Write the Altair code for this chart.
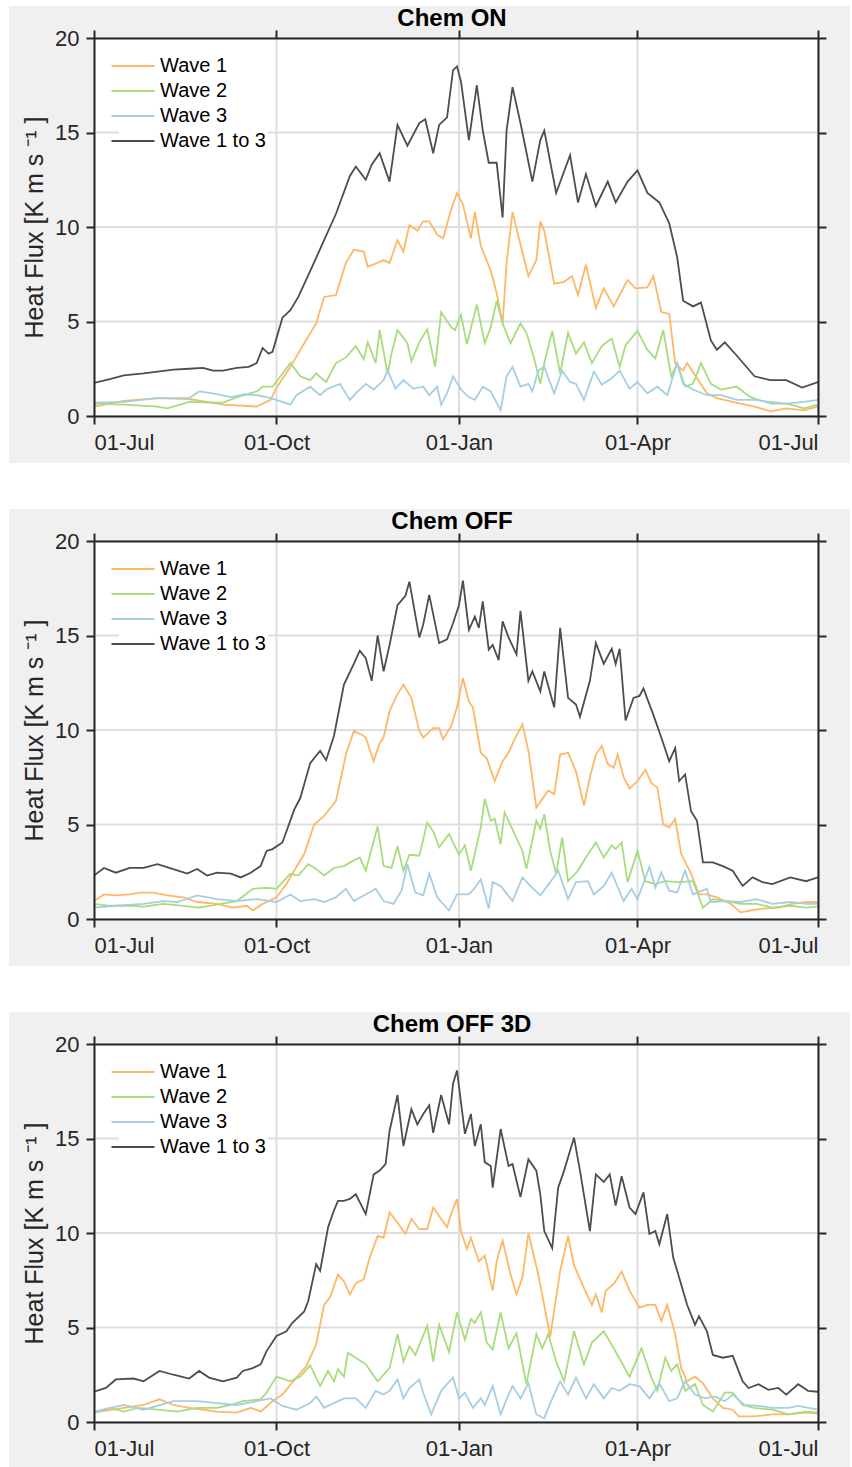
import altair as alt
import pandas as pd

FONT = "Liberation Sans"
SERIES = ["Wave 1", "Wave 2", "Wave 3", "Wave 1 to 3"]
COLORS = ["#ffb766", "#a8dc7c", "#a6cee3", "#4d4d4d"]
PANEL_TITLES = ["Chem ON", "Chem OFF", "Chem OFF 3D"]
TICK_DAYS = [0, 92, 184, 274, 365]
TICK_LABELS = ["01-Jul", "01-Oct", "01-Jan", "01-Apr", "01-Jul"]
Y_TICKS = [0, 5, 10, 15, 20]
Y_TITLE = "Heat Flux [K m s \u207b\u00b9 ]"

# ---- Chem ON : (day since 01-Jul, heat flux) ----
ON_W13 = [(0,1.75),(8,1.95),(15,2.15),(25,2.25),(32,2.35),(40,2.45),(48,2.5),(55,2.55),(60,2.4),(65,2.4),(72,2.55),(78,2.6),(82,2.8),(85,3.6),(88,3.3),(90,3.4),(95,5.2),(99,5.6),(103,6.3),(110,7.9),(116,9.3),(122,10.7),(129,12.7),(132,13.2),(137,12.5),(140,13.3),(144,13.9),(149,12.4),(153,15.4),(158,14.3),(164,15.5),(167,15.7),(171,13.9),(174,15.4),(178,15.8),(181,18.3),(183,18.5),(185,17.7),(189,14.6),(193,17.5),(196,15.1),(199,13.4),(203,13.4),(206,10.5),(208,15.1),(211,17.4),(215,15.5),(221,12.4),(225,14.6),(227,15.1),(233,11.8),(240,13.8),(244,11.3),(248,12.8),(253,11.1),(259,12.4),(263,11.3),(269,12.4),(274,13.0),(279,11.8),(285,11.3),(290,10.2),(294,8.4),(297,6.1),(302,5.8),(306,6.0),(311,4.0),(314,3.5),(318,3.9),(324,3.2),(333,2.1),(341,1.9),(349,1.9),(357,1.5),(365,1.8)]
ON_W1 = [(0,0.5),(15,0.8),(32,0.95),(48,0.9),(65,0.6),(82,0.5),(89,0.85),(92,1.5),(99,2.6),(106,3.85),(112,4.9),(116,6.3),(122,6.4),(127,8.1),(131,8.8),(136,8.7),(138,7.9),(143,8.1),(146,8.25),(149,8.1),(153,9.3),(156,8.7),(159,10.1),(163,9.8),(166,10.3),(169,10.3),(173,9.6),(176,9.4),(180,10.9),(183,11.8),(186,11.2),(190,9.4),(192,10.8),(195,9.0),(200,7.7),(203,6.5),(206,4.9),(208,8.1),(211,10.8),(214,9.5),(219,7.4),(223,8.25),(225,10.3),(227,9.8),(232,7.0),(237,7.1),(241,7.4),(244,6.4),(248,8.0),(253,5.7),(257,6.75),(262,5.8),(267,6.8),(269,7.2),(273,6.75),(279,6.8),(282,7.4),(286,5.5),(290,5.4),(293,2.8),(297,2.4),(299,2.8),(304,2.0),(309,1.2),(314,0.95),(322,0.75),(333,0.5),(341,0.25),(349,0.4),(358,0.3),(365,0.5)]
ON_W2 = [(0,0.65),(15,0.6),(32,0.5),(37,0.4),(48,0.75),(65,0.7),(72,1.0),(82,1.3),(85,1.55),(90,1.55),(94,2.1),(99,2.8),(104,2.1),(109,1.9),(112,2.25),(117,1.8),(122,2.8),(127,3.1),(132,3.7),(136,3.0),(138,3.9),(142,2.8),(144,4.55),(148,2.25),(150,3.3),(153,4.55),(158,3.85),(160,2.9),(164,3.9),(168,4.6),(172,2.6),(175,5.5),(180,4.7),(182,4.55),(185,5.35),(188,3.8),(193,5.9),(197,3.85),(200,4.7),(203,6.1),(206,4.9),(210,3.85),(215,4.9),(218,4.4),(222,3.0),(225,1.7),(227,2.8),(231,4.5),(235,2.25),(239,4.4),(243,3.3),(247,3.9),(251,2.8),(256,3.7),(261,4.1),(265,2.6),(268,3.75),(274,4.5),(279,3.5),(283,3.05),(287,4.55),(291,2.1),(294,2.8),(298,1.55),(302,1.7),(306,2.8),(311,1.7),(316,1.4),(324,1.55),(331,1.0),(341,0.65),(349,0.65),(358,0.4),(365,0.6)]
ON_W3 = [(0,0.7),(15,0.75),(32,0.95),(48,0.95),(53,1.3),(60,1.2),(69,1.0),(76,1.15),(82,1.1),(87,1.0),(92,0.85),(99,0.6),(102,1.1),(109,1.55),(114,1.1),(117,1.4),(124,1.7),(129,0.85),(132,1.2),(137,1.7),(141,1.4),(146,1.9),(148,2.4),(152,1.45),(156,1.9),(161,1.45),(166,1.55),(169,1.1),(173,1.55),(175,0.6),(178,1.2),(181,2.1),(185,1.4),(189,1.0),(192,0.85),(196,1.55),(200,1.3),(205,0.3),(208,2.1),(211,2.6),(215,1.55),(219,1.7),(221,1.3),(224,2.4),(227,2.6),(232,1.2),(236,2.4),(240,1.8),(243,1.7),(247,0.85),(252,2.35),(256,1.65),(261,2.0),(265,2.4),(270,1.45),(274,1.8),(279,1.2),(284,1.55),(289,1.1),(294,2.8),(297,1.7),(302,1.4),(309,1.1),(316,1.1),(324,0.85),(333,0.85),(341,0.75),(349,0.65),(358,0.75),(365,0.85)]

# ---- Chem OFF ----
OFF_W13 = [(0,2.3),(5,2.7),(11,2.45),(18,2.7),(25,2.7),(32,2.9),(38,2.7),(47,2.4),(52,2.65),(57,2.3),(62,2.45),(69,2.4),(74,2.2),(79,2.45),(84,2.8),(87,3.6),(90,3.7),(95,4.05),(101,5.8),(104,6.4),(109,8.25),(114,8.9),(117,8.4),(121,9.7),(126,12.4),(131,13.5),(134,14.2),(137,13.8),(140,12.6),(143,15.0),(146,13.1),(149,14.5),(153,16.6),(157,17.1),(159,17.85),(164,14.9),(166,15.6),(169,17.15),(174,14.6),(178,14.8),(181,15.65),(184,16.6),(186,17.9),(189,15.3),(192,16.0),(194,15.4),(196,16.8),(199,14.25),(201,14.5),(204,13.7),(206,15.75),(209,14.9),(213,14.0),(215,16.3),(219,12.6),(221,13.1),(225,12.05),(227,13.1),(232,11.2),(235,15.4),(239,11.7),(243,11.35),(245,10.7),(250,12.6),(253,14.6),(257,13.5),(261,14.3),(263,13.5),(265,14.3),(268,10.5),(272,11.7),(275,11.8),(277,12.2),(282,10.8),(286,9.6),(290,8.35),(293,9.05),(295,7.3),(298,7.65),(301,5.7),(304,5.2),(307,3.0),(312,3.0),(317,2.8),(322,2.55),(327,1.75),(332,2.2),(337,1.95),(342,1.85),(351,2.2),(359,2.0),(365,2.2)]
OFF_W1 = [(0,0.95),(5,1.3),(11,1.25),(18,1.3),(23,1.4),(30,1.4),(37,1.25),(45,1.15),(52,0.9),(62,0.8),(70,0.6),(77,0.7),(80,0.45),(85,0.8),(92,1.15),(97,1.85),(102,2.75),(106,3.45),(111,5.0),(116,5.45),(122,6.25),(127,8.7),(131,9.95),(135,9.75),(137,9.6),(141,8.35),(144,9.3),(146,9.6),(149,11.0),(153,11.9),(156,12.4),(160,11.7),(164,9.95),(166,9.6),(171,10.1),(174,10.1),(176,9.5),(180,10.2),(183,11.2),(186,12.75),(189,11.5),(191,11.2),(195,8.8),(198,8.5),(202,7.3),(206,8.35),(209,8.8),(212,9.5),(216,10.3),(219,8.9),(223,5.9),(229,6.8),(232,6.6),(235,8.7),(239,8.8),(243,7.8),(247,6.0),(250,7.5),(253,8.7),(256,9.15),(259,8.2),(262,8.0),(264,8.7),(267,7.5),(270,6.9),(274,7.3),(278,7.9),(281,7.2),(284,6.95),(287,5.0),(290,4.85),(293,5.3),(296,3.45),(301,2.4),(305,1.3),(309,1.3),(314,1.15),(321,0.8),(326,0.35),(331,0.45),(337,0.55),(345,0.6),(352,0.8),(359,0.9),(365,0.9)]
OFF_W2 = [(0,0.8),(8,0.7),(18,0.7),(25,0.65),(35,0.8),(45,0.7),(53,0.6),(64,0.8),(72,0.95),(80,1.6),(87,1.65),(92,1.6),(99,2.4),(103,2.3),(108,2.9),(112,2.65),(116,2.3),(121,2.7),(126,2.8),(131,3.1),(134,3.25),(137,2.55),(143,4.9),(146,2.8),(150,2.7),(153,3.85),(156,2.55),(159,3.4),(164,3.35),(168,5.1),(171,4.65),(174,3.8),(179,4.5),(184,3.4),(187,3.9),(190,2.55),(195,4.85),(197,6.35),(200,5.2),(202,5.3),(205,3.95),(207,5.65),(212,4.5),(216,3.6),(218,2.65),(223,5.2),(225,4.75),(227,5.55),(230,3.6),(233,2.4),(236,4.3),(239,2.0),(244,2.55),(248,3.25),(253,4.05),(257,3.25),(261,3.9),(263,3.7),(266,4.05),(269,1.95),(274,3.6),(278,2.0),(283,1.85),(288,2.0),(295,1.95),(302,2.0),(307,0.6),(312,1.05),(319,0.95),(326,0.8),(334,0.8),(342,0.6),(351,0.7),(359,0.6),(365,0.65)]
OFF_W3 = [(0,0.6),(11,0.7),(25,0.8),(35,0.95),(42,0.9),(52,1.25),(62,1.05),(72,0.95),(82,1.05),(92,0.9),(99,1.3),(104,0.95),(111,1.05),(116,0.9),(122,1.15),(127,1.6),(131,0.95),(137,1.3),(142,1.6),(146,0.95),(151,0.8),(155,1.5),(158,2.9),(162,1.4),(166,1.25),(169,2.4),(173,1.15),(179,0.45),(183,1.3),(189,1.3),(192,1.65),(195,2.1),(199,0.55),(201,1.95),(205,1.75),(211,0.95),(216,2.2),(220,1.75),(225,1.25),(230,1.95),(234,2.55),(239,1.05),(243,1.95),(249,2.0),(252,1.3),(257,1.75),(261,2.45),(267,0.95),(271,1.6),(274,1.05),(280,2.75),(283,1.65),(286,2.45),(290,1.5),(294,1.4),(298,2.55),(302,1.3),(309,1.6),(311,0.9),(319,0.95),(326,0.9),(334,1.05),(342,0.8),(351,0.9),(359,0.8),(365,0.8)]

# ---- Chem OFF 3D ----
D3_W13 = [(0,1.6),(6,1.8),(11,2.25),(20,2.3),(25,2.15),(33,2.7),(40,2.5),(48,2.3),(53,2.7),(58,2.35),(65,2.15),(72,2.35),(75,2.7),(80,2.85),(84,3.05),(87,3.75),(92,4.55),(97,4.8),(100,5.25),(106,5.85),(108,6.4),(112,8.35),(114,8.0),(118,10.3),(121,11.2),(123,11.7),(126,11.7),(129,11.8),(132,12.05),(137,11.0),(141,13.1),(144,13.3),(147,13.65),(149,15.4),(153,17.3),(156,14.6),(160,16.55),(163,15.75),(166,16.3),(169,16.75),(171,15.3),(175,17.3),(179,15.75),(181,17.9),(183,18.6),(187,15.25),(190,16.3),(192,14.6),(195,15.75),(197,13.75),(200,13.55),(201,12.4),(204,14.7),(205,15.5),(209,13.55),(211,13.65),(215,11.9),(219,13.9),(223,13.3),(225,12.05),(227,10.1),(231,9.2),(234,12.4),(237,13.3),(240,14.35),(242,15.05),(245,13.3),(250,10.1),(253,13.1),(257,12.7),(260,13.1),(263,11.45),(266,13.0),(270,11.35),(273,11.0),(277,12.15),(280,9.95),(283,10.1),(285,9.4),(289,11.0),(292,8.7),(295,7.65),(299,6.2),(303,5.15),(305,5.6),(309,4.8),(312,3.55),(317,3.4),(322,3.5),(327,2.15),(330,1.8),(335,2.0),(340,1.7),(345,1.8),(349,1.45),(355,2.0),(360,1.65),(365,1.6)]
D3_W1 = [(0,0.5),(15,0.75),(25,0.9),(33,1.2),(40,0.9),(48,0.75),(62,0.55),(72,0.5),(79,0.75),(84,0.55),(90,1.1),(95,1.45),(102,2.35),(107,2.95),(112,4.1),(116,6.2),(119,6.6),(123,7.8),(126,7.45),(129,6.75),(132,7.35),(136,7.55),(139,8.7),(143,9.85),(146,9.75),(149,11.1),(153,10.55),(157,9.95),(160,10.75),(164,10.2),(168,10.2),(171,11.35),(174,10.9),(178,10.3),(180,11.0),(183,11.8),(185,10.1),(188,9.15),(190,9.75),(194,8.5),(197,8.8),(201,6.95),(203,8.5),(206,9.6),(210,7.8),(213,6.75),(216,7.65),(219,10.0),(224,7.8),(230,4.5),(235,8.0),(239,9.85),(242,8.3),(247,7.1),(251,6.2),(253,6.75),(256,5.8),(258,6.95),(262,7.3),(266,7.95),(270,6.95),(275,6.05),(279,6.2),(283,6.2),(286,5.35),(289,6.2),(293,4.65),(296,2.85),(299,2.15),(303,2.4),(307,2.05),(312,1.25),(317,0.75),(322,0.65),(325,0.3),(333,0.3),(342,0.4),(350,0.4),(359,0.5),(365,0.45)]
D3_W2 = [(0,0.5),(8,0.75),(15,0.55),(22,0.75),(32,0.65),(42,0.55),(52,0.75),(62,0.75),(69,0.9),(75,1.1),(84,1.2),(87,1.55),(92,2.4),(99,2.15),(104,2.4),(109,3.0),(114,1.9),(118,2.7),(121,2.15),(123,2.8),(126,2.4),(128,3.65),(132,3.4),(137,3.05),(143,2.15),(146,2.5),(149,2.85),(153,4.65),(156,3.2),(159,4.0),(162,3.55),(168,5.1),(171,3.2),(174,5.15),(179,3.7),(183,5.8),(187,4.35),(190,5.45),(192,5.25),(195,5.8),(198,4.2),(201,3.85),(205,5.8),(209,3.9),(213,4.7),(218,2.0),(223,4.65),(226,3.9),(229,4.65),(233,3.2),(237,2.15),(242,4.8),(247,3.05),(251,4.2),(257,4.8),(262,3.9),(266,3.15),(270,2.4),(276,3.9),(281,2.35),(284,1.65),(288,3.4),(291,2.7),(294,3.05),(298,1.65),(303,2.0),(307,0.9),(312,0.55),(318,1.55),(322,1.55),(327,0.9),(333,0.75),(342,0.65),(350,0.4),(359,0.55),(365,0.5)]
D3_W3 = [(0,0.55),(15,0.9),(25,0.65),(40,1.1),(52,1.1),(62,1.0),(72,0.9),(82,1.1),(89,1.25),(95,0.85),(102,0.65),(109,1.0),(112,1.35),(116,0.75),(121,1.0),(126,1.25),(132,1.25),(137,0.75),(142,1.65),(146,1.45),(149,1.65),(153,2.25),(156,1.25),(159,1.8),(164,2.25),(166,1.55),(170,0.4),(175,1.65),(178,2.0),(181,2.35),(184,1.25),(187,1.55),(191,0.75),(195,1.25),(197,0.9),(201,1.9),(205,0.4),(208,1.2),(211,1.9),(215,1.25),(219,2.05),(223,0.4),(227,0.2),(230,1.0),(235,2.15),(239,1.45),(243,2.35),(248,1.25),(252,2.0),(257,1.25),(261,1.8),(265,1.65),(270,2.0),(275,1.9),(280,1.25),(285,2.05),(290,1.1),(294,1.25),(298,2.15),(303,1.45),(308,1.25),(313,1.35),(318,1.1),(322,1.45),(328,0.9),(335,0.85),(342,0.75),(350,0.75),(355,0.85),(365,0.65)]

PANEL_DATA = [
    [ON_W1, ON_W2, ON_W3, ON_W13],
    [OFF_W1, OFF_W2, OFF_W3, OFF_W13],
    [D3_W1, D3_W2, D3_W3, D3_W13],
]

W, H = 724, 378
DARK = "#262626"

label_expr = " : ".join(
    f"datum.value == {d} ? '{l}'" for d, l in zip(TICK_DAYS, TICK_LABELS)
) + " : ''"

xscale = alt.Scale(domain=[0, 365], nice=False, zero=False)
yscale = alt.Scale(domain=[0, 20], nice=False, zero=True)

AX = dict(domain=True, domainColor=DARK, domainWidth=2, ticks=True, tickColor=DARK,
          tickWidth=2, tickSize=8, grid=False, zindex=1, labelFont=FONT,
          labelFontSize=22, labelColor=DARK, titleFont=FONT, titleColor=DARK)


def build_panel(title, lists):
    rows = []
    for name, pts in zip(SERIES, lists):
        for d, v in pts:
            rows.append({"day": d, "value": v, "series": name})
    df = pd.DataFrame(rows)
    one = pd.DataFrame({"k": [0]})

    bg = alt.Chart(one).mark_rect(color="#f0f0f0").encode(
        x=alt.value(-85), x2=alt.value(756), y=alt.value(-32), y2=alt.value(425))
    plotbg = alt.Chart(one).mark_rect(color="white").encode(
        x=alt.value(0), x2=alt.value(W), y=alt.value(0), y2=alt.value(H))
    ygrid = alt.Chart(pd.DataFrame({"gv": Y_TICKS})).mark_rule(
        color="#dedede", strokeWidth=2).encode(
        y=alt.Y("gv:Q", scale=yscale,
                axis=alt.Axis(orient="right", values=Y_TICKS, labels=False, title=None, **AX)))
    xgrid = alt.Chart(pd.DataFrame({"gd": TICK_DAYS})).mark_rule(
        color="#dedede", strokeWidth=2).encode(
        x=alt.X("gd:Q", scale=xscale,
                axis=alt.Axis(orient="top", values=TICK_DAYS, labels=False, title=None, **AX)))
    lines = alt.Chart(df).mark_line(strokeWidth=1.8, clip=True).encode(
        x=alt.X("day:Q", scale=xscale,
                axis=alt.Axis(orient="bottom", values=TICK_DAYS, labelExpr=label_expr,
                              labelPadding=8, title=None, **AX)),
        y=alt.Y("value:Q", scale=yscale,
                axis=alt.Axis(orient="left", values=Y_TICKS, title=Y_TITLE,
                              titleFontSize=25, titleFontWeight="normal",
                              labelPadding=7, titlePadding=7, **AX)),
        color=alt.Color("series:N", scale=alt.Scale(domain=SERIES, range=COLORS),
                        sort=SERIES,
                        legend=alt.Legend(orient="none", legendX=25, legendY=14, title=None,
                                          fillColor="white", padding=2,
                                          symbolType="M-2,0H2", symbolSize=462,
                                          symbolStrokeWidth=2, labelFont=FONT,
                                          labelFontSize=20, labelColor="black",
                                          labelOffset=15, rowPadding=3)),
    )
    ttl = alt.Chart(one).mark_text(text=title, font=FONT, fontSize=24, fontWeight="bold",
                                   color="black", baseline="middle").encode(
        x=alt.value(W / 2 - 4), y=alt.value(-19))
    return alt.layer(bg, plotbg, ygrid, xgrid, lines, ttl).resolve_axis(
        x="independent", y="independent").properties(width=W, height=H)


panels = [build_panel(t, d) for t, d in zip(PANEL_TITLES, PANEL_DATA)]
chart = alt.vconcat(*panels, spacing=46).resolve_legend(color="independent").properties(
    padding={"left": 9, "top": 6, "right": 0, "bottom": 0},
    background="white",
).configure_view(strokeWidth=0)

chart.save("out.html", embed_options={"renderer": "svg", "actions": False})
